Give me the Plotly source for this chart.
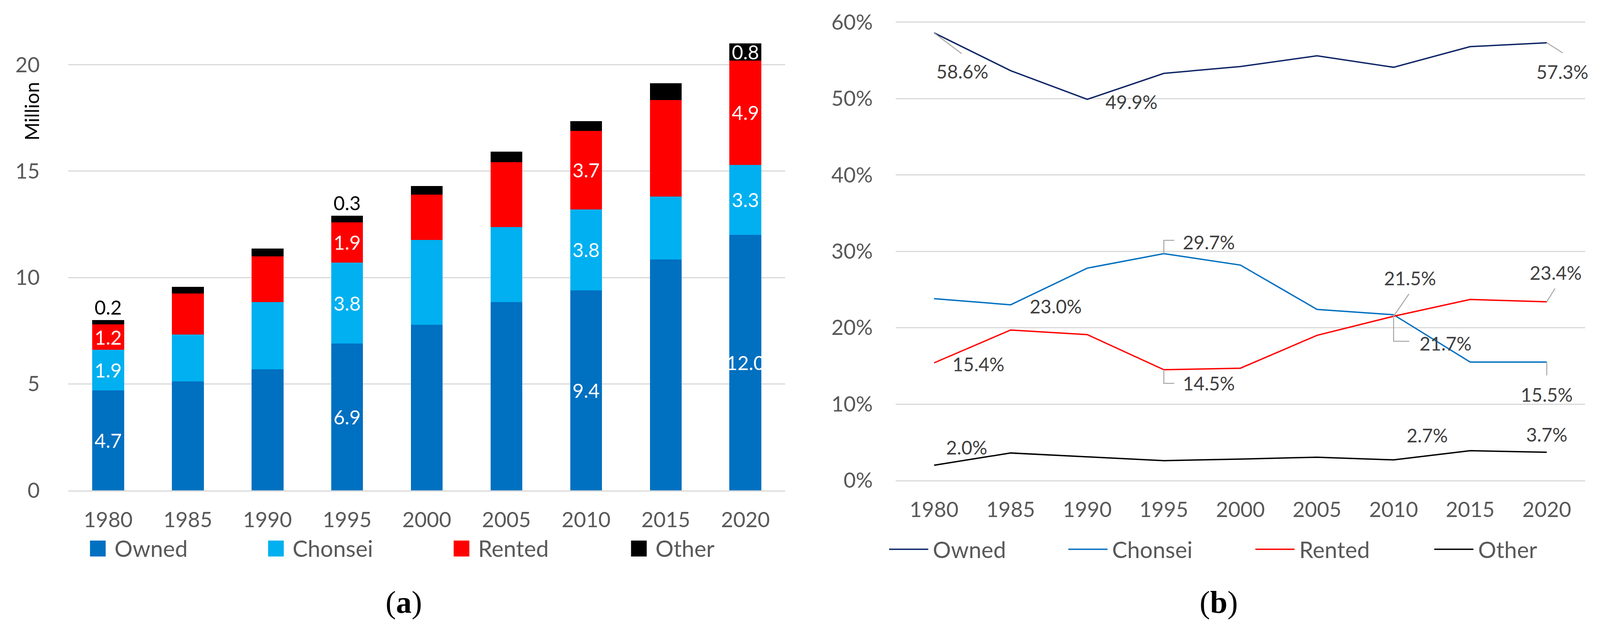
import plotly.graph_objects as go

# ---------------- data ----------------
years = [1980, 1985, 1990, 1995, 2000, 2005, 2010, 2015, 2020]

# (a) households by tenure, million
owned_m = [4.7, 5.12, 5.68, 6.9, 7.79, 8.85, 9.4, 10.85, 12.0]
chonsei_m = [1.9, 2.21, 3.17, 3.8, 3.97, 3.52, 3.8, 2.95, 3.3]
rented_m = [1.2, 1.93, 2.15, 1.9, 2.14, 3.05, 3.7, 4.55, 4.9]
other_m = [0.2, 0.31, 0.37, 0.3, 0.40, 0.50, 0.45, 0.78, 0.8]
bar_label_years = {
    "Owned": [1980, 1995, 2010, 2020],
    "Chonsei": [1980, 1995, 2010, 2020],
    "Rented": [1980, 1995, 2010, 2020],
    "Other": [1980, 1995, 2020],
}
ticks_a = [0, 5, 10, 15, 20]

# (b) share by tenure, %
owned_pct = [58.6, 53.65, 49.9, 53.3, 54.2, 55.6, 54.1, 56.8, 57.3]
chonsei_pct = [23.8, 23.0, 27.8, 29.7, 28.2, 22.4, 21.7, 15.5, 15.5]
rented_pct = [15.4, 19.7, 19.1, 14.5, 14.7, 19.0, 21.5, 23.7, 23.4]
other_pct = [2.0, 3.6, 3.1, 2.6, 2.8, 3.05, 2.7, 3.9, 3.7]
ticks_b = [0, 10, 20, 30, 40, 50, 60]

series_names = ["Owned", "Chonsei", "Rented", "Other"]
bar_colors = ["#0070C0", "#00B0F0", "#FF0000", "#000000"]
line_colors = ["#0E2466", "#0070C0", "#FF0000", "#000000"]

# label placement for (b): (series, year, dx px, dy px (down +), leader path in px (up +) or None)
line_labels = [
    ("Owned", 1980, 76, 98, [(0, 0), (74, -53)]),
    ("Owned", 1990, 118, 6, None),
    ("Owned", 2020, 42, 74, [(0, 0), (43, -26)]),
    ("Chonsei", 1985, 121, 4, None),
    ("Chonsei", 1995, 120, -30, [(0, 0), (0, 34), (28, 34)]),
    ("Chonsei", 2010, 139, 73, [(0, 0), (0, -68), (42, -68)]),
    ("Chonsei", 2020, 0, 83, [(0, 0), (0, -34)]),
    ("Rented", 1980, 119, 3, None),
    ("Rented", 1995, 120, 34, [(0, 0), (0, -35), (28, -35)]),
    ("Rented", 2010, 44, -98, [(0, 0), (41, 57)]),
    ("Rented", 2020, 24, -75, [(0, 0), (22, 34)]),
    ("Other", 1980, 87, -46, None),
    ("Other", 2010, 90, -63, None),
    ("Other", 2020, 0, -46, None),
]

REF_W, H = 4285, 1630      # reference geometry (layout measured in these pixels)
W = 4096                   # browser viewport width actually available
SX = W / REF_W             # horizontal pixel scale
FONT = "Lato"
TICK_COLOR = "#595959"
GRID = "#D9D9D9"


def px_x(p):
    return p / REF_W


def px_y(p):
    return 1 - p / H


fig = go.Figure()

# ---------------- (a) stacked bars ----------------
bar_data = [owned_m, chonsei_m, rented_m, other_m]
for name, vals, col in zip(series_names, bar_data, bar_colors):
    texts = [f"{v:.1f}" if y in bar_label_years[name] else "" for y, v in zip(years, vals)]
    if name == "Other":
        pos = ["inside" if y == 2020 else "outside" for y in years]
    else:
        pos = "inside"
    fig.add_trace(go.Bar(
        x=years, y=vals, name=name, marker=dict(color=col, line=dict(width=0)),
        width=2.0, text=texts, textposition=pos, insidetextanchor="middle",
        constraintext="none", textangle=0, cliponaxis=False,
        insidetextfont=dict(family=FONT, size=50, color="white"),
        outsidetextfont=dict(family=FONT, size=50, color="black"),
        xaxis="x", yaxis="y", showlegend=False, hoverinfo="skip",
    ))

# ---------------- (b) lines ----------------
pct_data = {"Owned": owned_pct, "Chonsei": chonsei_pct, "Rented": rented_pct, "Other": other_pct}
for name, col in zip(series_names, line_colors):
    fig.add_trace(go.Scatter(
        x=years, y=pct_data[name], mode="lines", name=name,
        line=dict(color=col, width=3.5), xaxis="x2", yaxis="y2",
        showlegend=False, hoverinfo="skip",
    ))

annotations = []
shapes = []
for name, yr, dx, dy, path in line_labels:
    v = pct_data[name][years.index(yr)]
    annotations.append(dict(
        x=yr, y=v, xref="x2", yref="y2", text=f"{v:.1f}%", showarrow=False,
        xshift=dx * SX, yshift=-dy, xanchor="center", yanchor="middle",
        font=dict(family=FONT, size=48, color="#404040"),
    ))
    if path:
        d = "M" + " L".join(f"{px * SX:.1f},{py}" for px, py in path)
        shapes.append(dict(
            type="path", xref="x2", yref="y2", xsizemode="pixel", ysizemode="pixel",
            xanchor=yr, yanchor=v, path=d, line=dict(color="#A6A6A6", width=2.5),
            layer="above",
        ))

# ---------------- manual legends ----------------
legend_a_x = [241, 718, 1215, 1690]
for name, col, lx in zip(series_names, bar_colors, legend_a_x):
    shapes.append(dict(type="rect", xref="paper", yref="paper",
                       x0=px_x(lx), x1=px_x(lx + 42), y0=px_y(1450), y1=px_y(1408),
                       fillcolor=col, line=dict(width=0)))
    annotations.append(dict(x=px_x(lx + 63), y=px_y(1428), xref="paper", yref="paper",
                            text=name, showarrow=False, xanchor="left", yanchor="middle",
                            font=dict(family=FONT, size=58, color=TICK_COLOR)))

legend_b_x = [2381, 2861, 3362, 3841]
for name, col, lx in zip(series_names, line_colors, legend_b_x):
    shapes.append(dict(type="line", xref="paper", yref="paper",
                       x0=px_x(lx), x1=px_x(lx + 105), y0=px_y(1431), y1=px_y(1431),
                       line=dict(color=col, width=3.5)))
    annotations.append(dict(x=px_x(lx + 115), y=px_y(1431), xref="paper", yref="paper",
                            text=name, showarrow=False, xanchor="left", yanchor="middle",
                            font=dict(family=FONT, size=58, color=TICK_COLOR)))

# axis title and captions
annotations.append(dict(x=px_x(85), y=px_y(278), xref="paper", yref="paper", text="Million",
                        textangle=-90, showarrow=False, xanchor="center", yanchor="middle",
                        font=dict(family=FONT, size=50, color="black")))
for txt, cx in [("(<b>a</b>)", 1081), ("(<b>b</b>)", 3264)]:
    annotations.append(dict(x=px_x(cx), y=px_y(1571), xref="paper", yref="paper", text=txt,
                            showarrow=False, xanchor="center", yanchor="middle",
                            font=dict(family="Liberation Serif", size=80, color="black")))

axis_common = dict(showgrid=False, zeroline=False, ticks="",
                   tickfont=dict(family=FONT, size=54, color=TICK_COLOR))

fig.update_layout(
    width=W, height=H, margin=dict(l=0, r=0, t=0, b=0),
    paper_bgcolor="white", plot_bgcolor="white",
    barmode="stack",
    xaxis=dict(domain=[px_x(183), px_x(2103)], range=[1977.5, 2022.5],
               tickvals=years, showline=True, linecolor=GRID, linewidth=3,
               ticklabelstandoff=26, layer="below traces", anchor="y", **axis_common),
    yaxis=dict(domain=[px_y(1276), 1.0], range=[0, 1276 / 56],
               tickvals=ticks_a, ticktext=[str(t) for t in ticks_a],
               showgrid=True, gridcolor=GRID, gridwidth=3,
               zeroline=False, ticks="", ticklabelstandoff=72, anchor="x",
               tickfont=dict(family=FONT, size=54, color=TICK_COLOR)),
    xaxis2=dict(domain=[px_x(2399), px_x(4245)], range=[1977.5, 2022.5],
                tickvals=years, showline=True, linecolor=GRID, linewidth=3,
                ticklabelstandoff=26, layer="below traces", anchor="y2", **axis_common),
    yaxis2=dict(domain=[px_y(1250), px_y(1250 - 61 * 20.1)], range=[0, 61],
                tickvals=ticks_b, ticktext=[f"{t}%" for t in ticks_b],
                showgrid=True, gridcolor=GRID, gridwidth=3, zeroline=False, ticks="",
                ticklabelstandoff=58, anchor="x2",
                tickfont=dict(family=FONT, size=54, color=TICK_COLOR)),
    annotations=annotations, shapes=shapes,
)

fig.write_html(
    "out.html",
    config={"displayModeBar": False},
    post_script="document.body.style.margin='0';document.body.style.overflow='hidden';",
)
